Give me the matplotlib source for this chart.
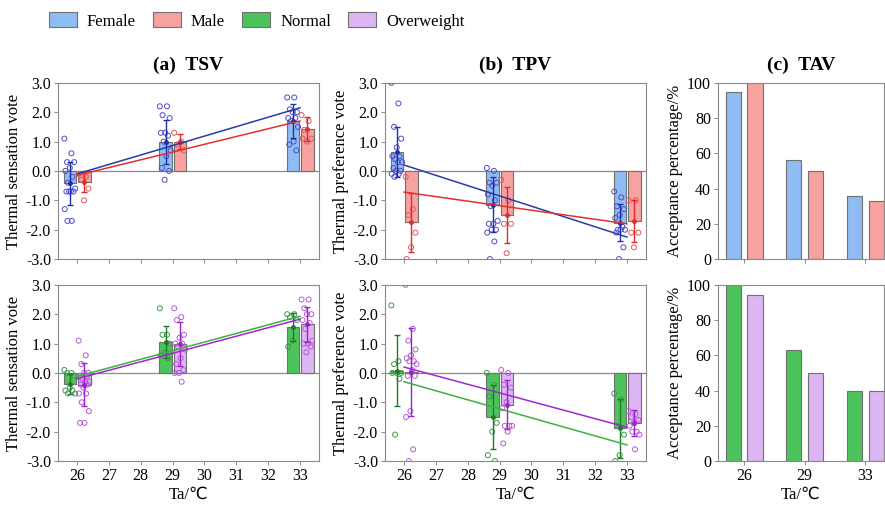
import numpy as np
import matplotlib
matplotlib.use('Agg')
import matplotlib.pyplot as plt
from matplotlib.patches import Patch

plt.rcParams['font.family'] = ['Liberation Serif', 'DejaVu Sans']
plt.rcParams['axes.unicode_minus'] = False

# air temperatures of the three test conditions
temps = [26, 29, 33]
temp_labels = ['26', '29', '33']
fit_temps = [26, 33]

# ---------- (a) TSV by gender ----------
tsv_female = [[1.1, 0.6, 0.3, 0.3, 0.1, 0.0, -0.2, -0.4, -0.6, -0.7, -0.7, -0.7, -0.7, -1.3, -1.7, -1.7],
              [2.2, 2.2, 1.9, 1.8, 1.3, 1.3, 1.2, 1.0, 0.7, 0.5, 0.1, 0.0, -0.3],
              [2.5, 2.5, 2.1, 2.0, 2.0, 1.8, 1.8, 1.7, 1.5, 1.0, 0.9, 0.7]]
tsv_male = [[-0.1, -0.2, -0.3, -0.6, -1.0],
            [1.3, 1.0, 0.9, 0.7],
            [1.9, 1.7, 1.4, 1.1, 1.0, 1.1]]
tsv_female_mean = [-0.42, 1.0, 1.7]
tsv_female_sd = [0.73, 0.75, 0.57]
tsv_male_mean = [-0.37, 1.0, 1.43]
tsv_male_sd = [0.35, 0.25, 0.41]
tsv_female_fit = [-0.1, 2.15]
tsv_male_fit = [-0.15, 1.7]

# ---------- (a) TSV by body type ----------
tsv_normal = [[0.1, 0.0, 0.0, -0.1, -0.5, -0.6, -0.6, -0.7, -0.7],
              [2.2, 1.3, 1.3, 1.0, 0.7, 0.6, 0.5],
              [2.0, 2.0, 1.9, 1.8, 1.1, 0.9]]
tsv_over = [[1.1, 0.6, 0.3, 0.0, 0.0, -0.1, -0.1, -0.2, -0.3, -0.3, -0.4, -0.4, -0.5, -0.7, -0.7, -1.0, -1.3, -1.7, -1.7],
            [2.2, 1.9, 1.8, 1.3, 1.2, 1.0, 1.0, 0.9, 0.8, 0.5, 0.3, 0.1, 0.0, 0.0, -0.3],
            [2.5, 2.5, 2.2, 2.0, 2.0, 1.8, 1.7, 1.5, 1.1, 1.0, 1.0, 0.9, 0.7]]
tsv_normal_mean = [-0.37, 1.05, 1.57]
tsv_normal_sd = [0.33, 0.55, 0.48]
tsv_over_mean = [-0.4, 1.0, 1.65]
tsv_over_sd = [0.73, 0.75, 0.6]
tsv_normal_fit = [-0.12, 1.93]
tsv_over_fit = [-0.2, 1.83]

# ---------- (b) TPV by gender ----------
tpv_female = [[3.0, 2.3, 1.5, 1.1, 0.8, 0.5, 0.5, 0.4, 0.3, 0.3, 0.1, 0.0, 0.0, -0.1, -0.1, -0.2],
              [0.1, 0.0, -0.4, -0.4, -0.5, -0.8, -1.0, -1.2, -1.7, -1.8, -1.8, -2.0, -2.0, -2.1, -2.4, -3.0],
              [-0.7, -0.9, -1.2, -1.3, -1.5, -1.6, -1.9, -2.0, -2.0, -2.0, -2.1, -2.6, -3.0]]
tpv_male = [[-0.2, -1.3, -1.5, -2.1, -2.6, -3.0],
            [-0.3, -1.0, -1.8, -1.8, -2.8],
            [-1.0, -1.0, -2.1, -2.1, -2.6]]
tpv_female_mean = [0.65, -1.15, -1.77]
tpv_female_sd = [0.85, 0.93, 0.63]
tpv_male_mean = [-1.75, -1.5, -1.7]
tpv_male_sd = [1.0, 0.95, 0.72]
tpv_female_fit = [0.2, -2.25]
tpv_male_fit = [-0.72, -1.8]

# ---------- (b) TPV by body type ----------
tpv_normal = [[2.3, 0.4, 0.3, 0.0, 0.0, 0.0, -0.2, -2.1],
              [0.0, -0.4, -0.8, -1.7, -2.0, -2.8, -3.0],
              [-0.7, -0.9, -1.8, -2.1, -2.8, -3.0]]
tpv_over = [[3.0, 1.5, 1.1, 0.8, 0.6, 0.5, 0.4, 0.4, 0.3, 0.1, -0.1, -0.1, -1.3, -1.5, -2.6, -3.0],
            [0.1, 0.0, -0.4, -0.5, -1.0, -1.2, -1.8, -1.8, -1.8, -2.0, -2.4],
            [-1.3, -1.4, -1.5, -1.6, -1.7, -1.8, -2.0, -2.0, -2.1, -2.6]]
tpv_normal_mean = [0.08, -1.5, -1.88]
tpv_normal_sd = [1.2, 1.1, 1.0]
tpv_over_mean = [0.03, -1.08, -1.7]
tpv_over_sd = [1.5, 0.84, 0.45]
tpv_normal_fit = [-0.3, -2.45]
tpv_over_fit = [0.2, -1.85]

# ---------- (c) TAV acceptance percentage ----------
tav_female = [95, 56, 36]
tav_male = [100, 50, 33]
tav_normal = [100, 63, 40]
tav_over = [94, 50, 40]

# colours: fill, error bar / mean, points, fit line
c_female = ('#8fbcf3', '#1f2fa8', '#4d4dc8', '#2a3aa8')
c_male = ('#f7a1a1', '#e02b2b', '#e05a5a', '#e03030')
c_normal = ('#4dc45b', '#1f7a2a', '#3d9a48', '#3cb043')
c_over = ('#dcb6f2', '#a020d0', '#b65ad6', '#a028d0')
edge = '#707070'
spine_col = '#8a8a8a'


def jitter(n, spread=0.36):
    # deterministic spread of the individual votes across the bar
    k = np.arange(n)
    return ((k * 0.618034) % 1.0 - 0.5) * spread


def style(ax):
    for s in ax.spines.values():
        s.set_color(spine_col)
        s.set_linewidth(0.8)
    ax.tick_params(direction='out', length=3, width=0.7, color=spine_col,
                   labelsize=11.5, pad=2)


def vote_panel(ax, groups, ylabel, show_x):
    x = np.array(temps, dtype=float)
    ax.axhline(0, color='#8a8a8a', lw=0.9, zorder=1)
    for votes, mean, sd, fit, cols, off in groups:
        fill, dark, pts, line = cols
        ax.bar(x + off, mean, width=0.4, color=fill, edgecolor=edge, lw=0.8, zorder=2)
        for xi, v in zip(x, votes):
            ax.scatter(xi + off + jitter(len(v)), v, s=13, facecolors='none',
                       edgecolors=pts, linewidths=0.7, zorder=3)
        ax.errorbar(x + off, mean, yerr=sd, fmt='o', ms=2.5, color=dark,
                    capsize=2, capthick=1, lw=1, zorder=4)
        ax.plot(fit_temps, fit, color=line, lw=1.1, zorder=5)
    ax.set_xlim(25.4, 33.6)
    ax.set_ylim(-3, 3)
    ax.set_xticks(range(26, 34))
    ax.set_yticks(np.arange(-3, 3.1, 1))
    ax.set_yticklabels(['%.1f' % t for t in np.arange(-3, 3.1, 1)])
    ax.set_ylabel(ylabel, fontsize=12, labelpad=3)
    if show_x:
        ax.set_xlabel('Ta/℃', fontsize=12, labelpad=2)
    else:
        ax.set_xticklabels([])
    style(ax)


def tav_panel(ax, a, b, ca, cb, show_x):
    idx = np.arange(len(temps))
    ax.bar(idx - 0.18, a, width=0.25, color=ca[0], edgecolor=edge, lw=0.8)
    ax.bar(idx + 0.18, b, width=0.25, color=cb[0], edgecolor=edge, lw=0.8)
    ax.set_xlim(-0.43, 2.31)
    ax.set_ylim(0, 100)
    ax.set_xticks(idx)
    ax.set_yticks(range(0, 101, 20))
    ax.set_ylabel('Acceptance percentage/%', fontsize=12, labelpad=3)
    if show_x:
        ax.set_xticklabels(temp_labels)
        ax.set_xlabel('Ta/℃', fontsize=12, labelpad=2)
    else:
        ax.set_xticklabels([])
    style(ax)


fig = plt.figure(figsize=(8.85, 5.05), dpi=100)

top_b, bot_b, h = 0.487, 0.087, 0.349
ax_a1 = fig.add_axes([0.0655, top_b, 0.295, h])
ax_b1 = fig.add_axes([0.435, top_b, 0.295, h])
ax_c1 = fig.add_axes([0.8113, top_b, 0.1876, h])
ax_a2 = fig.add_axes([0.0655, bot_b, 0.295, h])
ax_b2 = fig.add_axes([0.435, bot_b, 0.295, h])
ax_c2 = fig.add_axes([0.8113, bot_b, 0.1876, h])

vote_panel(ax_a1, [(tsv_female, tsv_female_mean, tsv_female_sd, tsv_female_fit, c_female, -0.22),
                   (tsv_male, tsv_male_mean, tsv_male_sd, tsv_male_fit, c_male, 0.23)],
           'Thermal sensation vote', False)
vote_panel(ax_a2, [(tsv_normal, tsv_normal_mean, tsv_normal_sd, tsv_normal_fit, c_normal, -0.22),
                   (tsv_over, tsv_over_mean, tsv_over_sd, tsv_over_fit, c_over, 0.23)],
           'Thermal sensation vote', True)
vote_panel(ax_b1, [(tpv_female, tpv_female_mean, tpv_female_sd, tpv_female_fit, c_female, -0.22),
                   (tpv_male, tpv_male_mean, tpv_male_sd, tpv_male_fit, c_male, 0.23)],
           'Thermal preference vote', False)
vote_panel(ax_b2, [(tpv_normal, tpv_normal_mean, tpv_normal_sd, tpv_normal_fit, c_normal, -0.22),
                   (tpv_over, tpv_over_mean, tpv_over_sd, tpv_over_fit, c_over, 0.23)],
           'Thermal preference vote', True)
tav_panel(ax_c1, tav_female, tav_male, c_female, c_male, False)
tav_panel(ax_c2, tav_normal, tav_over, c_normal, c_over, True)

ax_a1.set_title('(a)  TSV', fontsize=14, fontweight='bold', pad=9)
ax_b1.set_title('(b)  TPV', fontsize=14, fontweight='bold', pad=9)
ax_c1.set_title('(c)  TAV', fontsize=14, fontweight='bold', pad=9)

handles = [Patch(facecolor=c[0], edgecolor=edge, lw=0.8) for c in (c_female, c_male, c_normal, c_over)]
fig.legend(handles, ['Female', 'Male', 'Normal', 'Overweight'], loc='upper left',
           bbox_to_anchor=(0.038, 1.005), ncol=4, frameon=False, fontsize=12,
           handlelength=1.7, handleheight=1.0, columnspacing=1.0, handletextpad=0.6)

fig.savefig('out.png', dpi=100)
